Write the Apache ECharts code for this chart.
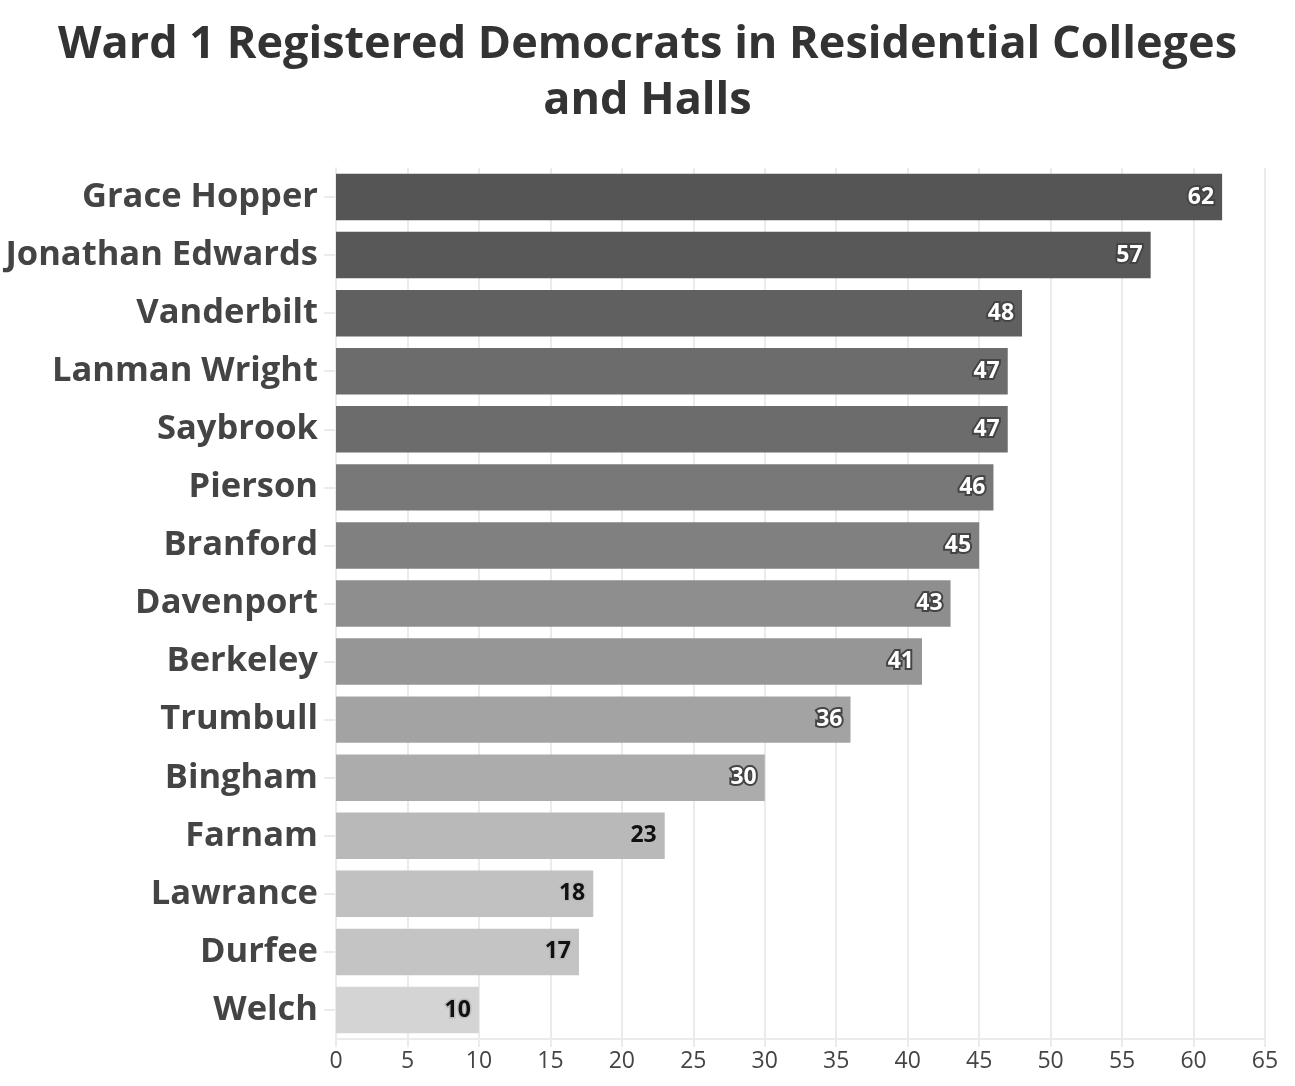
<!DOCTYPE html>
<html>
<head>
<meta charset="utf-8">
<script src="https://cdn.jsdelivr.net/npm/echarts@6/dist/echarts.min.js"></script>
<style>html,body{margin:0;padding:0;background:#fff;}#c{width:1295px;height:1086px;}</style>
</head>
<body>
<div id="c"></div>
<script>
const titleText = 'Ward 1 Registered Democrats in Residential Colleges\nand Halls';
const categories = ['Grace Hopper','Jonathan Edwards','Vanderbilt','Lanman Wright','Saybrook','Pierson','Branford','Davenport','Berkeley','Trumbull','Bingham','Farnam','Lawrance','Durfee','Welch'];
const values = [62,57,48,47,47,46,45,43,41,36,30,23,18,17,10];
const xTicks = [0,5,10,15,20,25,30,35,40,45,50,55,60,65];

const chart = echarts.init(document.getElementById('c'), null, {renderer:'canvas'});
chart.setOption({
  backgroundColor:'#ffffff',
  animation:false,
  title:{
    text:titleText,
    left:'center', top:12,
    textStyle:{fontFamily:'Open Sans', fontWeight:'bold', fontSize:45, color:'#333333', lineHeight:56}
  },
  grid:{left:336, right:30, top:168, bottom:47, containLabel:false},
  visualMap:{
    show:false, type:'continuous', min:10, max:62, dimension:0, seriesIndex:0,
    inRange:{color:['#d4d4d4','#d0d0d0','#cbcbcb','#c7c7c7','#c1c1c1','#bdbdbd','#bababa','#b7b7b7','#b3b3b3','#b0b0b0','#acacac','#a9a9a9','#a6a6a6','#a3a3a3','#9e9e9e','#999999','#939393','#888888','#787878','#606060','#5d5d5d','#5b5b5b','#5a5a5a','#585858','#575757','#565656','#555555']}
  },
  xAxis:{
    type:'value', min:xTicks[0], max:xTicks[xTicks.length-1], interval:5,
    axisLine:{show:true, lineStyle:{color:'#ebebeb', width:2}},
    axisTick:{show:true, length:8, lineStyle:{color:'#ebebeb', width:2}},
    axisLabel:{color:'#444444', fontSize:23, fontFamily:'Open Sans', margin:11},
    splitLine:{show:true, lineStyle:{color:'#ebebeb', width:2}}
  },
  yAxis:{
    type:'category', data:categories, inverse:true,
    axisLine:{show:true, lineStyle:{color:'#ebebeb', width:2}},
    axisTick:{show:true, length:12, alignWithLabel:true, lineStyle:{color:'#ebebeb', width:2}},
    axisLabel:{color:'#444444', fontSize:34.5, fontWeight:'bold', fontFamily:'Open Sans', margin:18, padding:[6,0,0,0]}
  },
  series:[{
    type:'bar',
    data:values,
    barCategoryGap:'20%',
    label:{
      show:true, position:'insideRight', distance:8,
      formatter:p => p.value >= 30 ? '{w|'+p.value+'}' : '{k|'+p.value+'}',
      rich:{
        w:{color:'#ffffff', fontSize:23, fontWeight:'bold', fontFamily:'Open Sans', textBorderColor:'#444444', textBorderWidth:4},
        k:{color:'#111111', fontSize:23, fontWeight:'bold', fontFamily:'Open Sans', textBorderColor:'#bbbbbb', textBorderWidth:3}
      }
    }
  }]
});
</script>
</body>
</html>
